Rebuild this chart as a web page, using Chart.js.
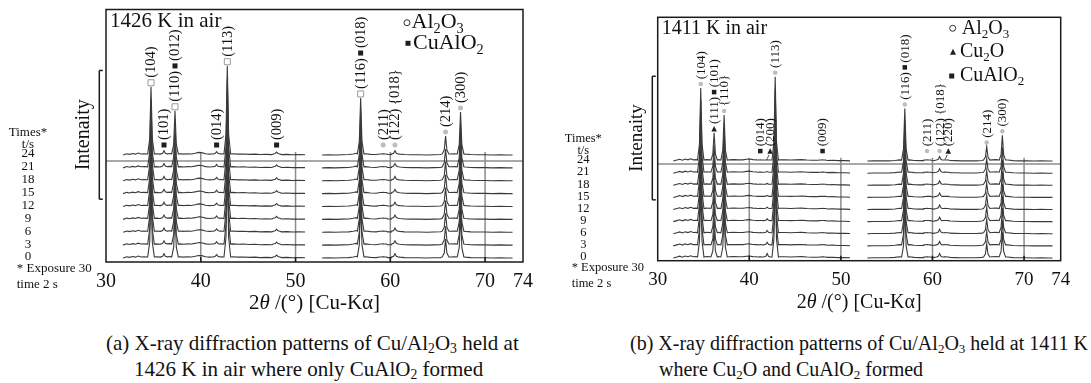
<!DOCTYPE html>
<html>
<head>
<meta charset="utf-8">
<script src="https://cdn.jsdelivr.net/npm/chart.js"></script>
<style>
  body { margin: 0; width: 1091px; height: 383px; overflow: hidden; position: relative; background: #fff;
         font-family: "Liberation Serif", "Times New Roman", serif; color: #111; }
  .panel { position: absolute; top: 0; }
  .cap { position: absolute; white-space: nowrap; line-height: 26px; }
  .cap sub { font-size: 0.65em; line-height: 0; vertical-align: -0.25em; }
</style>
</head>
<body>
<div class="panel" style="left:0"><canvas id="chartA" width="545" height="320"></canvas></div>
<div class="panel" style="left:545px"><canvas id="chartB" width="546" height="320"></canvas></div>

<div class="cap" style="left:106px; top:330px; font-size:21px">(a) X-ray diffraction patterns of Cu/Al<sub>2</sub>O<sub>3</sub> held at</div>
<div class="cap" style="left:134px; top:356px; font-size:21px">1426 K in air where only CuAlO<sub>2</sub> formed</div>
<div class="cap" style="left:630px; top:330px; font-size:20px">(b) X-ray diffraction patterns of Cu/Al<sub>2</sub>O<sub>3</sub> held at 1411 K</div>
<div class="cap" style="left:659px; top:356px; font-size:20px">where Cu<sub>2</sub>O and CuAlO<sub>2</sub> formed</div>

<script>
// exposure times (s) of the stacked patterns and the 2θ tick labels
const times = [0, 3, 6, 9, 12, 15, 18, 21, 24];
const xTicks = [30, 40, 50, 60, 70, 74];

// (a) 1426 K in air: reflections, intensities and phase tags
const peakAngleA = [34.75, 36.12, 37.28, 41.67, 42.80, 48.00, 56.87, 59.25, 60.49, 65.83, 67.41];
const peakHeightA = [15.9, 1.0, 10.3, 0.8, 20.8, 0.7, 13.3, 0.3, 1.0, 4.4, 10.0];
const peakTagA = [
  ['al', '(104)'], ['cu', '(101)'], ['al', '(110)', 'cu', '(012)'], ['cu', '(014)'],
  ['al', '(113)'], ['cu', '(009)'], ['al', '(116)', 'cu', '(018)'], ['dot', '(211)'],
  ['dot', '(122) {018}'], ['dot', '(214)'], ['dot', '(300)']
];
// background between the reflections (null = detector gap)
const baseAngleA = [31.8, 32.2, 32.5, 32.8, 33.1, 33.4, 33.7, 34.0, 35.3, 35.7, 36.5, 36.8, 37.8, 38.2,
  38.6, 39.0, 39.4, 39.8, 40.1, 40.5, 40.9, 41.2, 42.1, 43.4, 43.9, 44.5, 45.1, 45.7, 46.3, 46.9, 47.5,
  48.5, 49.1, 49.7, 50.3, 51.0, 52.0, 52.8, 53.5, 54.2, 54.9, 55.6, 56.1, 56.4, 57.4, 57.9, 58.5, 59.0,
  59.7, 60.1, 61.0, 61.5, 62.2, 63.0, 63.8, 64.6, 65.3, 66.3, 66.8, 67.9, 68.5, 69.2, 70.0, 70.8, 71.6,
  72.3, 72.9];
const baseLevelA = [0.0, 0.3, 0.15, 0.35, 0.2, 0.45, 0.25, 0.3, 0.3, 0.2, 0.3, 0.35, 0.3, 0.2,
  0.3, 0.25, 0.4, 0.6, 0.55, 0.3, 0.2, 0.25, 0.3, 0.3, 0.2, 0.25, 0.15, 0.2, 0.1, 0.15, 0.1,
  0.1, 0.15, 0.05, 0.1, 0.05, null, 0.0, 0.05, 0.0, 0.05, 0.1, 0.25, 0.4, 0.3, 0.15, 0.1, 0.05,
  0.1, 0.1, 0.2, 0.1, 0.05, 0.05, 0.0, 0.05, 0.1, 0.25, 0.3, 0.2, 0.1, 0.05, 0.05, 0.0, 0.05,
  0.0, 0.0];

// (b) 1411 K in air; Cu2O (200) fades with time
const cu2o200B = [1.1, 0.9, 0.8, 0.7, 0.6, 0.5, 0.45, 0.4, 0.35];
const peakAngleB = [34.70, 36.16, 37.25, 41.20, 41.95, 42.83, 48.00, 56.98, 59.40, 60.78, 61.40, 65.92, 67.63];
const peakHeightB = [18.1, 7.0, 11.4, 0.3, cu2o200B, 20.9, 0.3, 13.0, 0.3, 1.1, 0.3, 3.6, 6.4];
const peakTagB = [
  ['dot', '(104)'], ['tr', '(111)', 'cu', '(101)'], ['dot', '{110}'], ['cu', '(014)'],
  ['ar', 'tr', '(200)'], ['dot', '(113)'], ['cu', '(009)'], ['dot', '(116)', 'cu', '(018)'],
  ['dot', '(211)'], ['dot', '(122) {018}'], ['ar', 'tr', '(220)'], ['dot', '(214)'], ['dot', '(300)']
];
const baseAngleB = [31.7, 32.1, 32.4, 32.7, 33.0, 33.3, 33.6, 33.9, 34.2, 35.3, 35.7, 36.65, 37.8, 38.3,
  38.8, 39.3, 39.7, 40.0, 40.4, 40.8, 43.3, 43.9, 44.5, 45.1, 45.7, 46.3, 46.9, 47.5, 48.5, 49.1, 49.7,
  50.4, 51.0, 52.0, 52.9, 53.6, 54.4, 55.2, 55.9, 56.4, 57.5, 58.0, 58.6, 59.0, 60.1, 61.9, 62.5, 63.2,
  64.0, 64.8, 65.4, 66.5, 67.0, 68.2, 68.8, 69.5, 70.3, 71.1, 71.9, 72.6, 73.1];
const baseLevelB = [0.0, 0.25, 0.45, 0.2, 0.5, 0.3, 0.55, 0.3, 0.35, 0.35, 0.3, 0.35, 0.3, 0.35,
  0.3, 0.3, 0.45, 0.5, 0.35, 0.3, 0.3, 0.3, 0.25, 0.3, 0.35, 0.25, 0.2, 0.2, 0.15, 0.2, 0.1,
  0.1, 0.05, null, 0.0, 0.05, 0.05, 0.05, 0.15, 0.3, 0.3, 0.15, 0.1, 0.1, 0.1, 0.15, 0.1, 0.05,
  0.05, 0.05, 0.15, 0.3, 0.35, 0.25, 0.1, 0.05, 0.05, 0.0, 0.05, 0.0, 0.0];

const SERIF = '"Liberation Serif", "Times New Roman", serif';
Chart.defaults.font.family = SERIF;
Chart.defaults.color = '#111';

function heightAt(h, i) {
  return Array.isArray(h) ? h[i] : h;
}

// one pattern, lifted by its exposure time
function buildTrace(baseAngle, baseLevel, peakAngle, peakHeight, i) {
  const t = times[i];
  const pts = [];
  baseAngle.forEach((a, k) => {
    if (baseLevel[k] === null) { pts.push({ x: a, y: null }); return; }
    if (peakAngle.some(p => Math.abs(p - a) < 0.36)) return;
    pts.push({ x: a, y: t + baseLevel[k] });
  });
  peakAngle.forEach((p, k) => {
    const h = heightAt(peakHeight[k], i);
    pts.push({ x: p - 0.35, y: t + 0.25 }, { x: p - 0.14, y: t + 0.2 + 0.22 * h },
             { x: p, y: t + h },
             { x: p + 0.14, y: t + 0.2 + 0.22 * h }, { x: p + 0.35, y: t + 0.25 });
  });
  pts.sort((a, b) => a.x - b.x);
  return pts;
}

function fontOf(size, style) {
  return (style === 'it' ? 'italic ' : '') + size + 'px ' + SERIF;
}

function richWidth(ctx, parts, size) {
  let w = 0;
  for (const [s, st] of parts) {
    ctx.font = fontOf(st === 'sub' ? size * 0.65 : size, st);
    w += ctx.measureText(s).width;
  }
  return w;
}

function drawRich(ctx, parts, x, y, size, align) {
  let cx = align === 'center' ? x - richWidth(ctx, parts, size) / 2 : x;
  ctx.textAlign = 'left';
  ctx.textBaseline = 'middle';
  for (const [s, st] of parts) {
    ctx.font = fontOf(st === 'sub' ? size * 0.65 : size, st);
    ctx.fillText(s, cx, st === 'sub' ? y + size * 0.3 : y);
    cx += ctx.measureText(s).width;
  }
}

function drawSymbol(ctx, kind, x, y, s) {
  ctx.save();
  ctx.beginPath();
  if (kind === 'al') {
    ctx.fillStyle = '#fff';
    ctx.strokeStyle = '#9a9a9a';
    ctx.lineWidth = 1;
    ctx.rect(x - s / 2, y - s / 2, s, s);
    ctx.fill();
    ctx.stroke();
  } else if (kind === 'cu') {
    ctx.fillStyle = '#1e1e1e';
    ctx.fillRect(x - s / 2 + 0.5, y - s / 2 + 0.5, s - 1, s - 1);
  } else if (kind === 'dot') {
    ctx.fillStyle = '#bdbdbd';
    ctx.arc(x, y, s / 2 - 0.5, 0, Math.PI * 2);
    ctx.fill();
  } else if (kind === 'ring') {
    ctx.strokeStyle = '#333';
    ctx.lineWidth = 1;
    ctx.arc(x, y, s / 2, 0, Math.PI * 2);
    ctx.stroke();
  } else if (kind === 'tr') {
    ctx.fillStyle = '#1e1e1e';
    ctx.moveTo(x, y - s / 2);
    ctx.lineTo(x + s / 2, y + s / 2);
    ctx.lineTo(x - s / 2, y + s / 2);
    ctx.closePath();
    ctx.fill();
  }
  ctx.restore();
}

function seg(ctx, x1, y1, x2, y2) {
  ctx.beginPath();
  ctx.moveTo(x1, y1);
  ctx.lineTo(x2, y2);
  ctx.stroke();
}

const xrdDecor = {
  id: 'xrdDecor',
  beforeDatasetsDraw(chart, args, o) {
    const { ctx, chartArea: ca, scales: { x, y } } = chart;
    ctx.save();
    ctx.strokeStyle = '#8c8c8c';
    ctx.lineWidth = 1.5;
    const yr = y.getPixelForValue(o.refLevel);
    seg(ctx, ca.left, yr, ca.right, yr);
    for (const v of xTicks.filter(v => v > 30 && v % 10 === 0)) {
      const px = x.getPixelForValue(v);
      seg(ctx, px, ca.bottom, px, y.getPixelForValue(o.gridTop));
    }
    ctx.restore();
  },
  afterDraw(chart, args, o) {
    const { ctx, chartArea: ca, scales: { x, y } } = chart;
    ctx.save();
    ctx.fillStyle = '#111';
    ctx.strokeStyle = '#1a1a1a';

    // frame and inner ticks
    ctx.lineWidth = 1.5;
    ctx.strokeRect(ca.left, ca.top, ca.right - ca.left, ca.bottom - ca.top);
    for (const v of xTicks.filter(v => v > 30 && v % 10 === 0)) {
      const px = x.getPixelForValue(v);
      seg(ctx, px, ca.bottom, px, ca.bottom - 5);
    }

    // reflection indices above the newest pattern
    const last = times.length - 1;
    const y24 = y.getPixelForValue(times[last]);
    o.peakAngle.forEach((p, k) => {
      const tags = o.tags[k];
      if (!tags) return;
      const peakX = x.getPixelForValue(p);
      // tags with a pointer sit a little to the right of their peak
      const px = tags[0] === 'ar' ? peakX + 3 : peakX;
      const apex = y.getPixelForValue(times[last] + heightAt(o.peakHeight[k], last));
      const y0 = Math.min(apex - 4, y24 - 10);
      const ms = o.markSize;
      let cy = y0 + ms / 2;
      for (const tk of tags) {
        if (tk === 'ar') {
          ctx.lineWidth = 0.8;
          seg(ctx, px - 1, y0 + ms / 2 + 1, peakX, apex - 1);
        } else if (tk.startsWith('(') || tk.startsWith('{')) {
          ctx.save();
          ctx.translate(px + 0.5, cy);
          ctx.rotate(-Math.PI / 2);
          ctx.font = fontOf(o.tagSize);
          ctx.textAlign = 'left';
          ctx.textBaseline = 'middle';
          ctx.fillText(tk, 0, 0);
          const w = ctx.measureText(tk).width;
          ctx.restore();
          cy -= w + 2;
        } else {
          drawSymbol(ctx, tk, px, cy - ms / 2, ms);
          cy -= ms + 2;
        }
      }
    });

    // exposure-time labels
    ctx.font = fontOf(o.smallSize);
    ctx.textAlign = 'center';
    ctx.textBaseline = 'middle';
    for (const t of times) ctx.fillText(String(t), o.timeX, y.getPixelForValue(t) - 1);
    ctx.fillText('Times*', o.timeX, y24 - 22);
    ctx.fillText('t/s', o.timeX, y24 - 10);
    ctx.textAlign = 'left';
    ctx.fillText('* Exposure 30', o.noteX, ca.bottom + 7);
    ctx.fillText('time 2 s', o.noteX, ca.bottom + 23);

    // intensity scale bar
    const bx = ca.left - o.barGap;
    const b0 = y.getPixelForValue(o.bar[0]);
    const b1 = y.getPixelForValue(o.bar[1]);
    ctx.lineWidth = 1.5;
    seg(ctx, bx, b0, bx, b1);
    seg(ctx, bx, b0, bx + 3.5, b0);
    seg(ctx, bx, b1, bx + 3.5, b1);
    ctx.save();
    ctx.translate(ca.left - o.yTitleGap, (b0 + b1) / 2);
    ctx.rotate(-Math.PI / 2);
    ctx.font = fontOf(o.yTitleSize);
    ctx.textAlign = 'center';
    ctx.textBaseline = 'middle';
    ctx.fillText('Intenaity', 0, 0);
    ctx.restore();

    // condition and phase key
    drawRich(ctx, [[o.title]], ca.left + 4, ca.top + o.titleDy, o.titleSize);
    for (const it of o.legend) {
      drawSymbol(ctx, it.sym, it.sx, it.y, it.ss);
      drawRich(ctx, it.parts, it.tx, it.y, o.legendSize);
    }

    // 2θ axis title
    drawRich(ctx, [['2'], ['θ', 'it'], [' /(°) [Cu-Kα]']],
      (ca.left + ca.right) / 2, ca.bottom + o.xTitleDy, o.xTitleSize, 'center');
    ctx.restore();
  }
};

function makeChart(id, d) {
  const datasets = times.map((t, i) => ({
    label: t + ' s',
    data: buildTrace(d.baseAngle, d.baseLevel, d.peakAngle, d.peakHeight, i),
    borderColor: '#3a3a3a',
    borderWidth: 1.1,
    pointRadius: 0,
    tension: 0,
    spanGaps: false
  }));
  return new Chart(document.getElementById(id), {
    type: 'line',
    data: { datasets },
    plugins: [xrdDecor],
    options: {
      responsive: false,
      animation: false,
      events: [],
      layout: { padding: d.pad },
      scales: {
        x: {
          type: 'linear', min: 30, max: 74,
          afterBuildTicks: s => { s.ticks = xTicks.map(v => ({ value: v })); },
          afterFit: s => { s.height = d.axisH; },
          grid: { display: false, drawTicks: false },
          border: { display: false },
          ticks: { font: { size: d.tickSize }, color: '#111', padding: 8, maxRotation: 0, autoSkip: false }
        },
        y: { type: 'linear', display: false, min: d.yMin, max: d.yMax }
      },
      plugins: {
        legend: { display: false },
        tooltip: { enabled: false },
        xrdDecor: d.decor
      }
    }
  });
}

const al2o3 = [['Al'], ['2', 'sub'], ['O'], ['3', 'sub']];
const cualo2 = [['CuAlO'], ['2', 'sub']];
const cu2o = [['Cu'], ['2', 'sub'], ['O']];

makeChart('chartA', {
  baseAngle: baseAngleA, baseLevel: baseLevelA, peakAngle: peakAngleA, peakHeight: peakHeightA,
  pad: { left: 106, right: 22, top: 9.5, bottom: 0 }, axisH: 58, tickSize: 20,
  yMin: -0.93, yMax: 57.9,
  decor: {
    peakAngle: peakAngleA, peakHeight: peakHeightA, tags: peakTagA,
    tagSize: 14.5, markSize: 6, refLevel: 22.6, gridTop: 24.7,
    timeX: 28, noteX: 16.7, smallSize: 13,
    bar: [13.7, 43.7], barGap: 6.7, yTitleGap: 22.7, yTitleSize: 20,
    title: '1426 K in air', titleSize: 21, titleDy: 12.2,
    legendSize: 22,
    legend: [
      { sym: 'ring', sx: 407, ss: 6, tx: 411.5, y: 22.7, parts: al2o3 },
      { sym: 'cu', sx: 408, ss: 6, tx: 413, y: 43.3, parts: cualo2 }
    ],
    xTitleSize: 21, xTitleDy: 41.3
  }
});

makeChart('chartB', {
  baseAngle: baseAngleB, baseLevel: baseLevelB, peakAngle: peakAngleB, peakHeight: peakHeightB,
  pad: { left: 112.7, right: 30.3, top: 17.3, bottom: 0 }, axisH: 59.3, tickSize: 19,
  yMin: -0.67, yMax: 59.6,
  decor: {
    peakAngle: peakAngleB, peakHeight: peakHeightB, tags: peakTagB,
    tagSize: 13, markSize: 5.5, refLevel: 23.3, gridTop: 24.8,
    timeX: 38.3, noteX: 26.7, smallSize: 12.5,
    bar: [14.4, 45], barGap: 5.4, yTitleGap: 21, yTitleSize: 19,
    title: '1411 K in air', titleSize: 20, titleDy: 11,
    legendSize: 20,
    legend: [
      { sym: 'ring', sx: 407.7, ss: 6, tx: 416.7, y: 28.3, parts: al2o3 },
      { sym: 'tr', sx: 408, ss: 6, tx: 415, y: 51.7, parts: cu2o },
      { sym: 'cu', sx: 406.7, ss: 6, tx: 415, y: 76, parts: cualo2 }
    ],
    xTitleSize: 20, xTitleDy: 42.3
  }
});
</script>
</body>
</html>
